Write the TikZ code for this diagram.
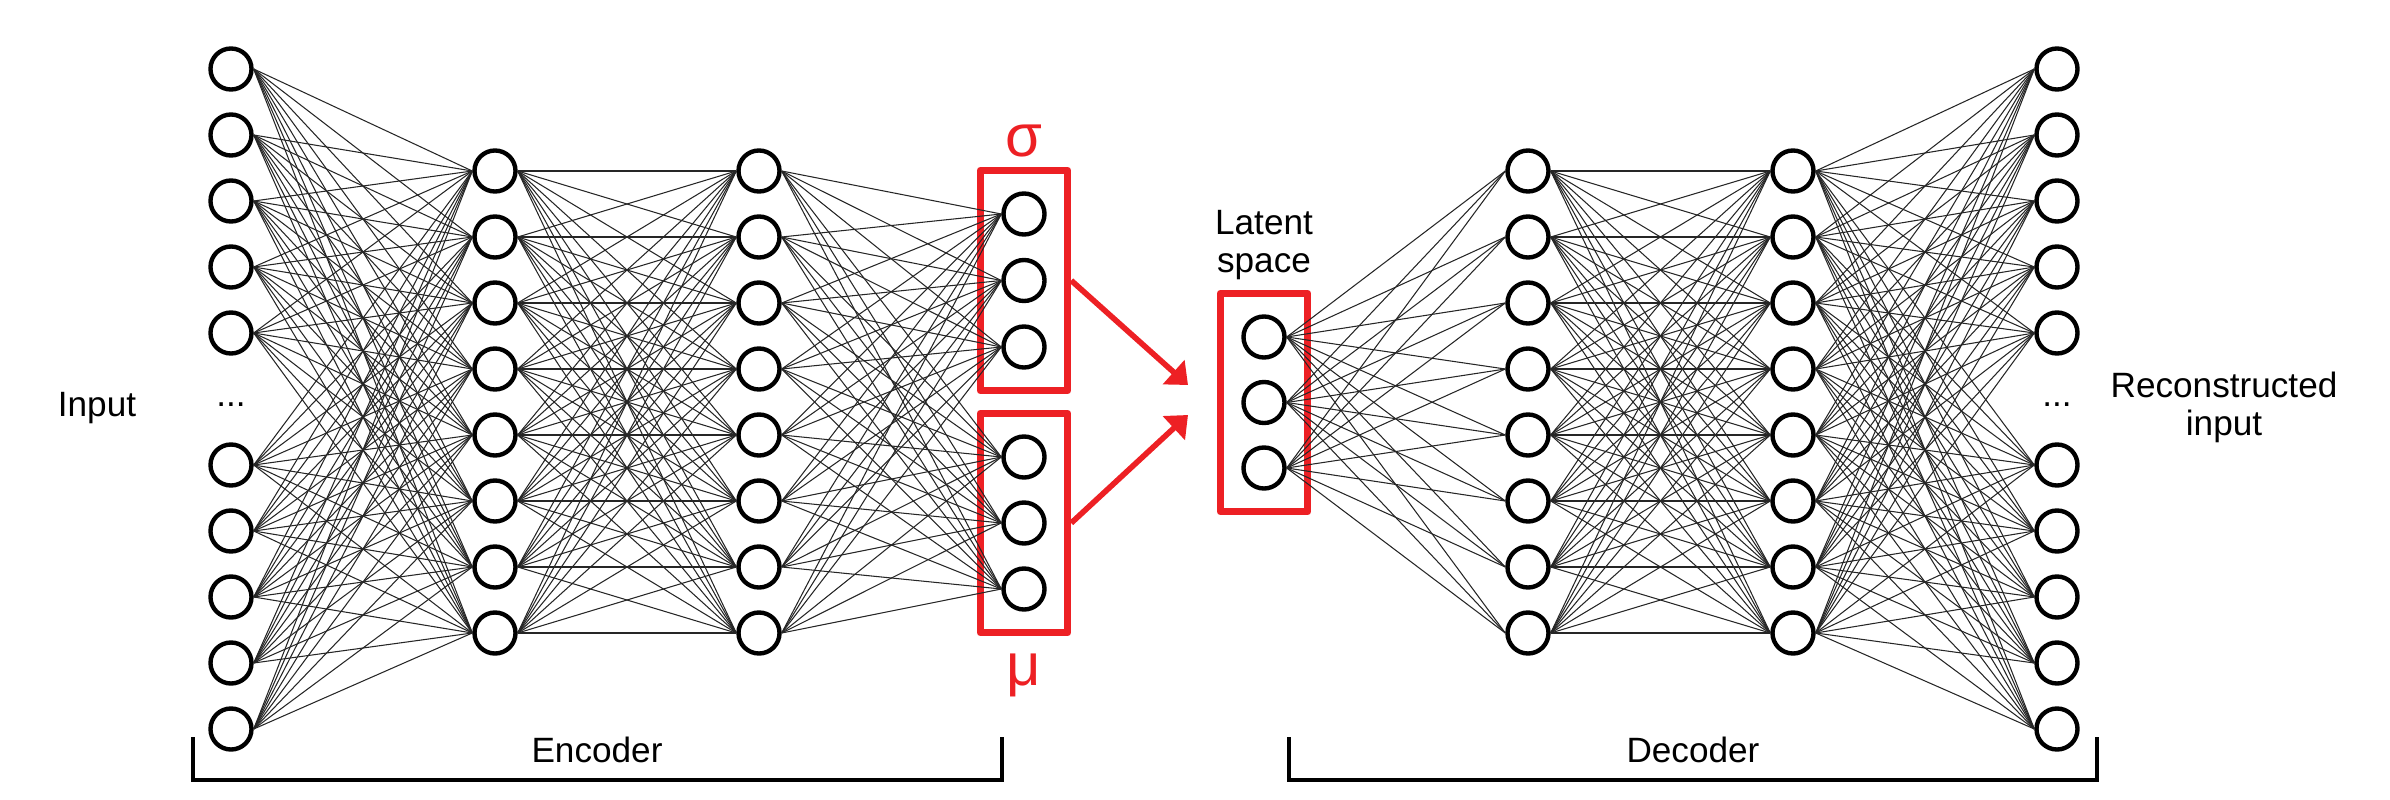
\documentclass[tikz,border=0pt]{standalone}
\usepackage{fontspec}
\setmainfont{Liberation Sans}
\usepackage{tikz}
\usetikzlibrary{arrows.meta,fit}
\definecolor{boxcolor}{RGB}{237,32,36}

\begin{document}
\begin{tikzpicture}[x=0.01cm, y=-0.01cm,
        neuron/.style={circle, draw, line width=1.25pt, minimum size=0.41cm, inner sep=0pt},
        link/.style={line width=0.3pt, black!85},
        redbox/.style={draw=boxcolor, line width=2pt, inner sep=0.21cm, line join=round},
        redarrow/.style={boxcolor, line width=1.6pt, -{Triangle[length=5.5pt,width=9pt]}},
        bracket/.style={line width=1pt},
        lab/.style={font=\fontsize{10}{10.6}\selectfont, inner sep=0pt, align=center},
        greek/.style={text=boxcolor, font=\fontsize{17}{20}\selectfont, inner sep=0pt}]
        \useasboundingbox (0,0) rectangle (2390,800);
        % 编码器的各层
        \foreach \y [count=\i] in {69,135,201,267,333,465,531,597,663,729} {
            \node[neuron] (in\i) at (231,\y) {};
            \node[neuron] (out\i) at (2057,\y) {};
        }
        \foreach \i in {1,...,8} {
            \node[neuron] (ea\i) at (495,{105+66*\i}) {};
            \node[neuron] (eb\i) at (759,{105+66*\i}) {};
            \node[neuron] (da\i) at (1528,{105+66*\i}) {};
            \node[neuron] (db\i) at (1793,{105+66*\i}) {};
        }
        \foreach \i in {1,2,3} {
            \node[neuron] (sg\i) at (1024,{147.5+66.5*\i}) {};
            \node[neuron] (mu\i) at (1024,{391+66*\i}) {};
            \node[neuron] (lt\i) at (1264,{271.5+65.5*\i}) {};
        }
        % 红框与箭头
        \node[redbox, fit=(sg1)(sg3)] (sgbox) {};
        \node[redbox, fit=(mu1)(mu3)] (mubox) {};
        \node[redbox, fit=(lt1)(lt3)] (ltbox) {};
        \coordinate (sgtip) at (1188,385);
        \coordinate (mutip) at (1188,415);
        \draw[redarrow] (sgbox.east) -- (sgtip);
        \draw[redarrow] (mubox.east) -- (mutip);
        % 全连接
        \foreach \a in {1,...,10} \foreach \b in {1,...,8}
            \draw[link] (in\a.east) -- (ea\b.west);
        \foreach \a in {1,...,8} \foreach \b in {1,...,8}
            \draw[link] (ea\a.east) -- (eb\b.west);
        \foreach \a in {1,...,8} \foreach \b in {1,2,3}
            \draw[link] (eb\a.east) -- (sg\b.west) (eb\a.east) -- (mu\b.west);
        \foreach \a in {1,2,3} \foreach \b in {1,...,8}
            \draw[link] (lt\a.east) -- (da\b.west);
        \foreach \a in {1,...,8} \foreach \b in {1,...,8}
            \draw[link] (da\a.east) -- (db\b.west);
        \foreach \a in {1,...,8} \foreach \b in {1,...,10}
            \draw[link] (db\a.east) -- (out\b.west);
        % 文字
        \node[greek, anchor=base] (sglab) at (1024,156) {σ};
        \node[greek, anchor=base] (mulab) at (1024,685) {μ};
        \node[lab, anchor=base] (inlab) at (97,416) {Input};
        \node[lab, anchor=base] (indots) at (231,406) {...};
        \node[lab, anchor=base] (outdots) at (2057,406) {...};
        \node[lab, anchor=base] (ltlab) at (1264,272) {Latent\\space};
        \node[lab, anchor=base] (reclab) at (2224,435) {Reconstructed\\input};
        % 下方括号
        \draw[bracket] (193,737) |- (1002,780) -- (1002,737);
        \draw[bracket] (1289,737) |- (2097,780) -- (2097,737);
        \node[lab, anchor=base] (enclab) at (597,762) {Encoder};
        \node[lab, anchor=base] (declab) at (1693,762) {Decoder};
    \end{tikzpicture}
\end{document}
